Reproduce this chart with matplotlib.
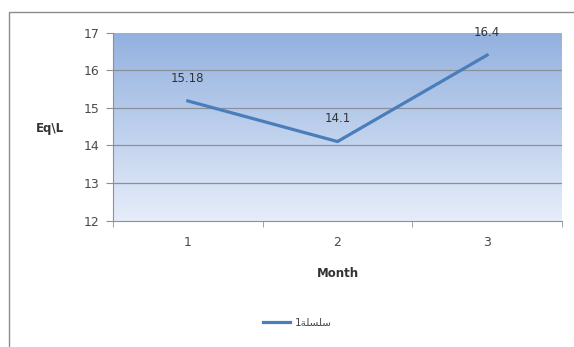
import numpy as np
import matplotlib.pyplot as plt
from matplotlib.colors import LinearSegmentedColormap
from matplotlib.patches import Rectangle

# Data
months = [1, 2, 3]
values = [15.18, 14.1, 16.4]
point_labels = ['15.18', '14.1', '16.4']
yticks = [12, 13, 14, 15, 16, 17]
# "سلسلة1" written in visual order with presentation forms
series_name = '1' + '\uFE94\uFEE0\uFEB4\uFEE0\uFEB3'

fig = plt.figure(figsize=(5.74, 3.47), dpi=100)
fig.patch.set_facecolor('white')

# Outer chart border
fig.add_artist(Rectangle((9 / 574, -0.1), 1.2, 1 - 12 / 347 + 0.1, transform=fig.transFigure,
                         fill=False, edgecolor='#8c8c8c', linewidth=1.0))

ax = fig.add_axes([113 / 574, 1 - 220.5 / 347, 449 / 574, 188 / 347])

# Gradient plot area
cmap = LinearSegmentedColormap.from_list('bg', ['#e6edf9', '#93b1df'])
grad = np.linspace(0, 1, 256).reshape(-1, 1)
ax.imshow(grad, cmap=cmap, aspect='auto', extent=[0.5, 3.5, 12, 17], origin='lower', zorder=0)

ax.set_xlim(0.5, 3.5)
ax.set_ylim(12, 17)

for y in yticks[1:-1]:
    ax.axhline(y, color='#8a909c', linewidth=0.9, zorder=1)

ax.plot(months, values, color='#4a7ebb', linewidth=2.3, zorder=3, label=series_name)

for x, y, t in zip(months, values, point_labels):
    ax.annotate(t, (x, y), xytext=(0, 16.5), textcoords='offset points', ha='center', va='center',
                fontsize=8.5, color='#333333', zorder=4)

ax.set_yticks(yticks)
ax.set_xticks(months)
ax.set_xticks([0.5, 1.5, 2.5, 3.5], minor=True)
ax.tick_params(axis='x', which='major', length=0, pad=11, labelsize=9, labelcolor='#4a4a4a')
ax.tick_params(axis='x', which='minor', length=4, color='#8a909c')
ax.tick_params(axis='y', length=5, color='#8a909c', labelsize=9, labelcolor='#4a4a4a', pad=5)

for s in ['top', 'right']:
    ax.spines[s].set_visible(False)
for s in ['left', 'bottom']:
    ax.spines[s].set_color('#8a909c')

ax.set_xlabel('Month', fontsize=8.5, fontweight='bold', color='#333333')
ax.xaxis.set_label_coords(0.5, -0.245)
ax.set_ylabel('Eq\\L', fontsize=8.5, fontweight='bold', color='#333333', rotation=0, va='center')
ax.yaxis.set_label_coords(-0.14, 0.49)

ax.legend(loc='center', bbox_to_anchor=(0.41, -0.545), frameon=False, fontsize=7.5,
          handlelength=2.6, handletextpad=0.5, labelcolor='#444444')

fig.savefig('out.png', dpi=100)
